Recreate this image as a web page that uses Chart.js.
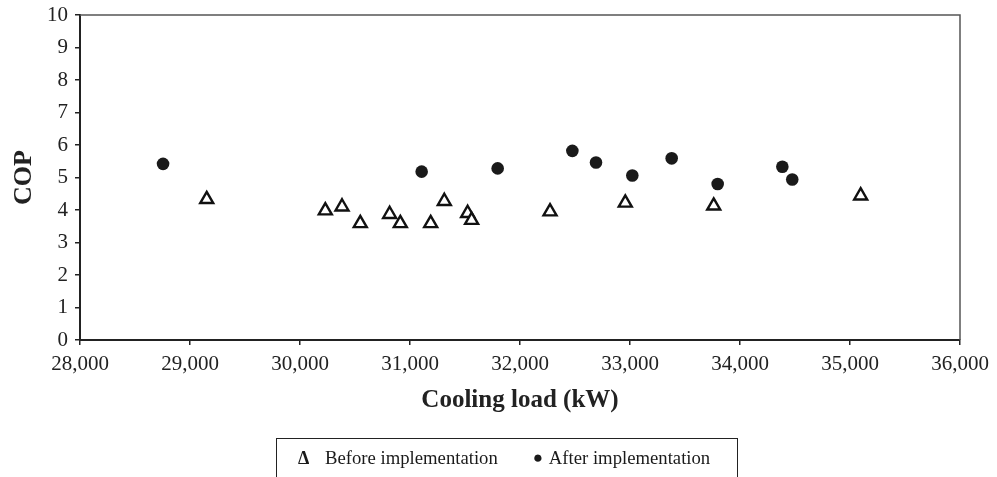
<!DOCTYPE html>
<html>
<head>
<meta charset="utf-8">
<script src="https://cdn.jsdelivr.net/npm/chart.js@4/dist/chart.umd.min.js"></script>
<style>
  html, body { margin: 0; padding: 0; background: #fff; overflow: hidden; }
  #wrap { position: relative; width: 997px; height: 477px; }
  #legend {
    position: absolute; left: 276px; top: 438px; width: 462px; height: 40px;
    border: 1.5px solid #222; box-sizing: border-box;
    font-family: "Liberation Serif", "Times New Roman", serif; font-size: 18.7px; color: #1a1a1a;
    display: flex; align-items: center; justify-content: flex-start;
    padding-left: 21px;
  }
  #legend .item { display: flex; align-items: center; white-space: nowrap; }
  #legend .item + .item { margin-left: 35px; }
  #legend .mark { display: inline-block; text-align: center; }
  #legend .tri { font-weight: bold; font-size: 18px; width: 11px; margin-right: 16px; }
  #legend .dot { font-size: 17px; width: 9px; margin-right: 7px; }
</style>
</head>
<body>
<div id="wrap">
  <canvas id="chart" width="997" height="477"></canvas>
  <div id="legend"></div>
</div>
<script>
// Cooling load (kW) and COP readings before and after the control strategy was implemented
const loadBefore = [29152, 30230, 30382, 30548, 30815, 30912, 31188, 31312, 31524, 31560, 32273, 32957, 33761, 35097];
const copBefore  = [4.33, 3.98, 4.10, 3.59, 3.87, 3.59, 3.59, 4.27, 3.90, 3.69, 3.95, 4.22, 4.13, 4.44];

const loadAfter = [28755, 31106, 31797, 32476, 32691, 33021, 33379, 33797, 34385, 34475];
const copAfter  = [5.42, 5.18, 5.28, 5.82, 5.46, 5.06, 5.59, 4.80, 5.33, 4.94];

const seriesLabels = ["Before implementation", "After implementation"];
const xTitle = "Cooling load (kW)";
const yTitle = "COP";

const serif = '"Liberation Serif", "Times New Roman", serif';

function toPoints(xs, ys) {
  return xs.map((x, i) => ({ x: x, y: ys[i] }));
}

// top and right frame lines of the plot area
const frame = {
  id: 'frame',
  afterDraw(chart) {
    const { ctx, chartArea: a } = chart;
    ctx.save();
    ctx.strokeStyle = '#555';
    ctx.lineWidth = 1.5;
    ctx.beginPath();
    ctx.moveTo(a.left, a.top);
    ctx.lineTo(a.right, a.top);
    ctx.lineTo(a.right, a.bottom);
    ctx.stroke();
    ctx.restore();
  }
};

const chart = new Chart(document.getElementById('chart'), {
  type: 'scatter',
  data: {
    datasets: [
      {
        label: seriesLabels[0],
        data: toPoints(loadBefore, copBefore),
        pointStyle: 'triangle',
        pointRadius: 7.5,
        pointHoverRadius: 7.5,
        backgroundColor: '#fff',
        borderColor: '#111',
        borderWidth: 2.4
      },
      {
        label: seriesLabels[1],
        data: toPoints(loadAfter, copAfter),
        pointStyle: 'circle',
        pointRadius: 6.3,
        pointHoverRadius: 6.3,
        backgroundColor: '#1a1a1a',
        borderColor: '#1a1a1a',
        borderWidth: 0
      }
    ]
  },
  options: {
    responsive: false,
    animation: false,
    layout: { padding: { top: 15, right: 37, bottom: 61, left: 0 } },
    plugins: {
      legend: { display: false },
      tooltip: { enabled: false }
    },
    scales: {
      x: {
        type: 'linear',
        min: 28000,
        max: 36000,
        ticks: {
          stepSize: 1000,
          color: '#222',
          font: { family: serif, size: 21 },
          padding: 7,
          callback: v => v.toLocaleString('en-US')
        },
        grid: { display: true, drawOnChartArea: false, drawTicks: true, tickLength: 5, color: '#222', lineWidth: 1.5 },
        border: { display: true, color: '#222', width: 2 },
        title: {
          display: true,
          text: xTitle,
          color: '#222',
          font: { family: serif, size: 25, weight: 'bold' },
          padding: { top: 0, bottom: 0 }
        },
        afterFit(scale) { scale.height = 76; }
      },
      y: {
        min: 0,
        max: 10,
        ticks: {
          stepSize: 1,
          color: '#222',
          font: { family: serif, size: 21 },
          padding: 7
        },
        grid: { display: true, drawOnChartArea: false, drawTicks: true, tickLength: 5, color: '#222', lineWidth: 1.5 },
        border: { display: true, color: '#222', width: 2 },
        title: {
          display: true,
          text: yTitle,
          color: '#222',
          font: { family: serif, size: 26, weight: 'bold' },
          padding: { top: 9, bottom: 0 }
        },
        afterFit(scale) {
          scale.width = 80;
          scale.paddingTop = 0;
          scale.paddingBottom = 0;
        }
      }
    }
  },
  plugins: [frame]
});

// legend built from the dataset labels
const legend = document.getElementById('legend');
chart.data.datasets.forEach(ds => {
  const item = document.createElement('span');
  item.className = 'item';
  const mark = document.createElement('span');
  mark.className = 'mark ' + (ds.pointStyle === 'triangle' ? 'tri' : 'dot');
  mark.textContent = ds.pointStyle === 'triangle' ? '\u0394' : '\u25CF';
  const txt = document.createElement('span');
  txt.textContent = ds.label;
  item.appendChild(mark);
  item.appendChild(txt);
  legend.appendChild(item);
});
</script>
</body>
</html>
